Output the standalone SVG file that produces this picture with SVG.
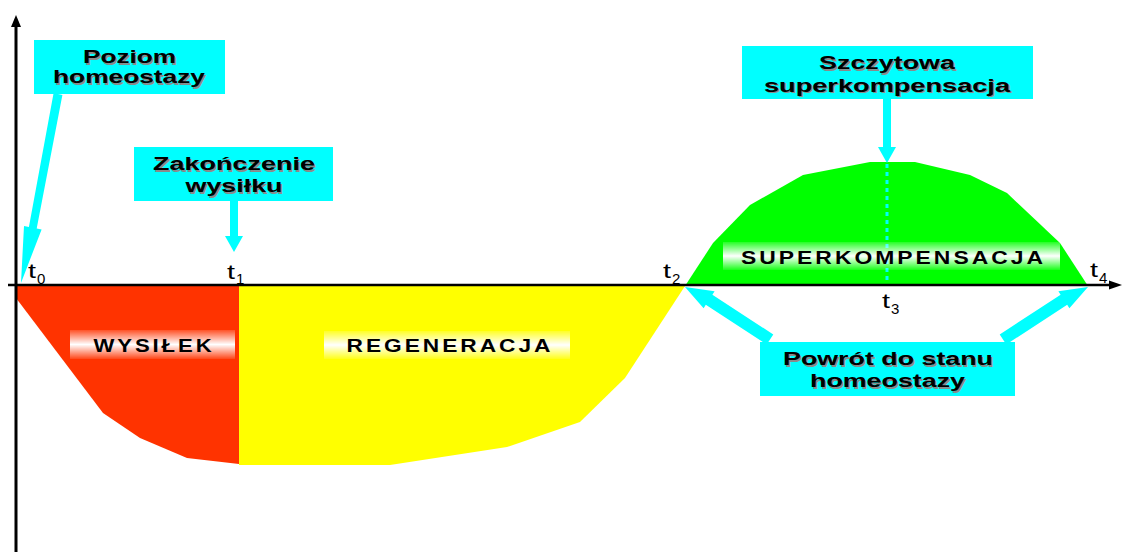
<svg xmlns="http://www.w3.org/2000/svg" width="1123" height="552" viewBox="0 0 1123 552">
<defs>
<style>
.box{fill:#00FFFF}
.bt{font-family:"Liberation Sans",Arial,sans-serif;font-weight:bold;font-size:18px;fill:#000;text-anchor:middle}
.sh{fill:#8a8a8a}
.lb{font-family:"Liberation Sans",Arial,sans-serif;font-weight:bold;font-size:19px;letter-spacing:2.5px;fill:#000;text-anchor:middle}
.tl{font-family:"Liberation Sans",Arial,sans-serif;font-size:21px;fill:#000}
.ts{font-family:"Liberation Sans",Arial,sans-serif;font-size:15px;fill:#000}
.arr{fill:#00FFFF}
.ax{stroke:#000;fill:none}
</style>
<linearGradient id="glow" x1="0" y1="0" x2="0" y2="1">
<stop offset="0" stop-color="#fff" stop-opacity="0.15"/>
<stop offset="0.5" stop-color="#fff" stop-opacity="1"/>
<stop offset="1" stop-color="#fff" stop-opacity="0.1"/>
</linearGradient>
</defs>
<rect width="1123" height="552" fill="#fff"/>

<g id="regions">
<polygon id="wysilek-area" fill="#FF3300" points="16,286 239,286 239,464 187,458 140,438 103,413 16,298"/>
<polygon id="regeneracja-area" fill="#FFFF00" points="239,286 685,286 625,378 580,422 507,447 390,465 239,465"/>
<polygon id="superkomp-area" fill="#00FF00" points="685,286 713,243 750,205 803,175 870,162 915,162 970,175 1007,193 1060,243 1088,286"/>
<line x1="887" y1="164" x2="887" y2="285" stroke="#00FFFF" stroke-width="3" stroke-dasharray="4 4"/>
</g>

<g id="label-wysilek">
<rect x="70" y="330" width="165" height="29" fill="url(#glow)"/>
<text class="lb" x="154" y="352" textLength="121" lengthAdjust="spacingAndGlyphs">WYSIŁEK</text>
</g>
<g id="label-regeneracja">
<rect x="324" y="331" width="246" height="28" fill="url(#glow)"/>
<text class="lb" x="450" y="352" textLength="207" lengthAdjust="spacingAndGlyphs">REGENERACJA</text>
</g>
<g id="label-superkompensacja">
<rect x="723" y="242" width="337" height="28" fill="url(#glow)"/>
<text class="lb" x="893.5" y="264" textLength="305" lengthAdjust="spacingAndGlyphs">SUPERKOMPENSACJA</text>
</g>

<g id="axes">
<line class="ax" x1="8" y1="285" x2="1112" y2="285" stroke-width="2.5"/>
<polygon points="1122,285 1109,280.5 1109,289.5" fill="#000"/>
<line class="ax" x1="16" y1="552" x2="16" y2="24" stroke-width="3"/>
<polygon points="16,15 11,27 21,27" fill="#000"/>
</g>

<g id="time-labels">
<text class="tl" x="28" y="278" textLength="8" lengthAdjust="spacingAndGlyphs">t</text><text class="ts" x="37" y="284">0</text>
<text class="tl" x="227" y="279" textLength="8" lengthAdjust="spacingAndGlyphs">t</text><text class="ts" x="236" y="284">1</text>
<text class="tl" x="663" y="278" textLength="8" lengthAdjust="spacingAndGlyphs">t</text><text class="ts" x="672" y="284">2</text>
<text class="tl" x="882" y="308" textLength="8" lengthAdjust="spacingAndGlyphs">t</text><text class="ts" x="891" y="314">3</text>
<text class="tl" x="1090" y="277" textLength="8" lengthAdjust="spacingAndGlyphs">t</text><text class="ts" x="1099" y="283">4</text>
</g>

<g id="connectors">
<!-- Poziom homeostazy -> t0 -->
<polygon class="arr" points="62.4,94.9 36.7,228.4 41.6,229.4 21,283 24.0,225.9 28.9,226.9 53.6,93.1"/>
<!-- Zakonczenie wysilku -> t1 -->
<polygon class="arr" points="230,200 238,200 238,236 243,236 234,252 225,236 230,236"/>
<!-- Szczytowa superkompensacja -> peak -->
<polygon class="arr" points="883,98 891,98 891,147 896,147 887,163 878,147 883,147"/>
<!-- Powrot -> t2 -->
<polygon class="arr" points="685,287 714.6,291.2 712.4,294.7 773.3,334.5 766.7,344.5 705.8,304.7 703.6,308.2"/>
<!-- Powrot -> t4 -->
<polygon class="arr" points="1088,287 1058.4,291.2 1060.6,294.7 999.7,334.5 1006.3,344.5 1067.2,304.7 1069.4,308.2"/>
</g>

<g id="node-poziom">
<rect class="box" x="34" y="40" width="191" height="54"/>
<text class="bt sh" x="131" y="64.5" textLength="93" lengthAdjust="spacingAndGlyphs">Poziom</text>
<text class="bt" x="129.5" y="63" textLength="93" lengthAdjust="spacingAndGlyphs">Poziom</text>
<text class="bt sh" x="130.5" y="84.5" textLength="152" lengthAdjust="spacingAndGlyphs">homeostazy</text>
<text class="bt" x="129" y="83" textLength="152" lengthAdjust="spacingAndGlyphs">homeostazy</text>
</g>

<g id="node-zakonczenie">
<rect class="box" x="134" y="147" width="199" height="54"/>
<text class="bt sh" x="235.5" y="171.5" textLength="162" lengthAdjust="spacingAndGlyphs">Zakończenie</text>
<text class="bt" x="234" y="170" textLength="162" lengthAdjust="spacingAndGlyphs">Zakończenie</text>
<text class="bt sh" x="235.5" y="193.5" textLength="97" lengthAdjust="spacingAndGlyphs">wysiłku</text>
<text class="bt" x="234" y="192" textLength="97" lengthAdjust="spacingAndGlyphs">wysiłku</text>
</g>

<g id="node-szczytowa">
<rect class="box" x="742" y="46" width="291" height="53"/>
<text class="bt sh" x="888.5" y="70.5" textLength="136" lengthAdjust="spacingAndGlyphs">Szczytowa</text>
<text class="bt" x="887" y="69" textLength="136" lengthAdjust="spacingAndGlyphs">Szczytowa</text>
<text class="bt sh" x="888.5" y="93" textLength="246" lengthAdjust="spacingAndGlyphs">superkompensacja</text>
<text class="bt" x="887" y="91.5" textLength="246" lengthAdjust="spacingAndGlyphs">superkompensacja</text>
</g>

<g id="node-powrot">
<rect class="box" x="760" y="342" width="255" height="54"/>
<text class="bt sh" x="889.5" y="366.5" textLength="210" lengthAdjust="spacingAndGlyphs">Powrót do stanu</text>
<text class="bt" x="888" y="365" textLength="210" lengthAdjust="spacingAndGlyphs">Powrót do stanu</text>
<text class="bt sh" x="889" y="388.5" textLength="155" lengthAdjust="spacingAndGlyphs">homeostazy</text>
<text class="bt" x="887.5" y="387" textLength="155" lengthAdjust="spacingAndGlyphs">homeostazy</text>
</g>
</svg>
